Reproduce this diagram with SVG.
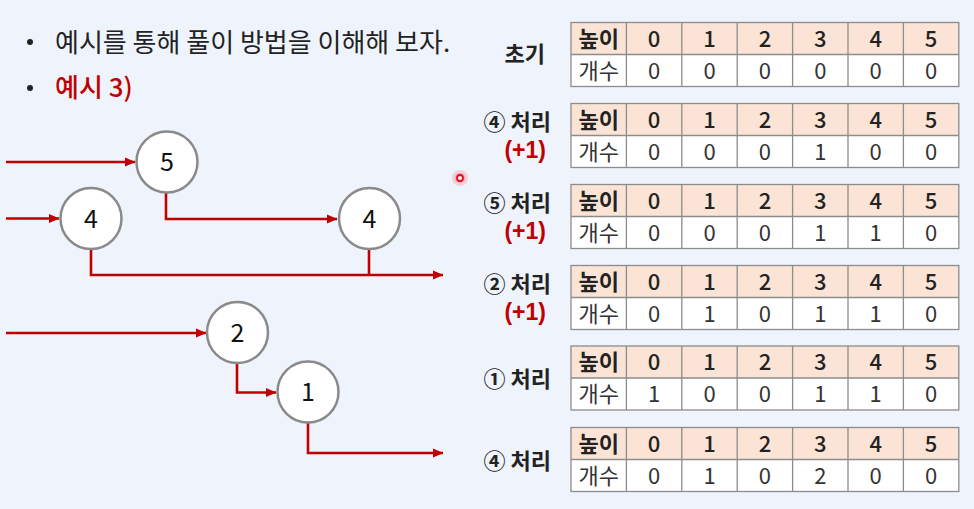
<svg xmlns="http://www.w3.org/2000/svg" width="974" height="509" viewBox="0 0 974 509">
<defs>
<style>
text{font-family:"Noto Sans CJK KR","Noto Sans",sans-serif;}
.bg{fill:#eef3fc;}
.body{font-size:26px;fill:#222;}
.red{fill:#c00000;}
.node circle{fill:#fff;stroke:#8a8a8a;stroke-width:2.5;}
.node text{font-size:25px;fill:#111;text-anchor:middle;}
.conn path{fill:none;stroke:#c00000;stroke-width:2.6;}
.hdr{fill:#fbe4d5;}
.cnt{fill:#fff;}
.grid{fill:none;stroke:#8c8c8c;stroke-width:1.3;}
.th{font-size:22px;font-weight:500;fill:#222;text-anchor:middle;}
.thk{font-size:22px;font-weight:700;fill:#222;text-anchor:middle;}
.td{font-size:22px;fill:#333;text-anchor:middle;}
.lbl{font-size:22px;font-weight:700;fill:#222;text-anchor:end;}
.plus{font-family:"Liberation Sans",Arial,sans-serif;font-size:23px;font-weight:700;fill:#c00000;text-anchor:end;}
</style>
<marker id="ah" markerUnits="userSpaceOnUse" markerWidth="11" markerHeight="10" refX="10" refY="5" orient="auto">
<path d="M0,0.5 L10.5,5 L0,9.5 z" fill="#c00000"/>
</marker>
<g id="tbl">
<rect class="hdr" x="0" y="0" width="387.8" height="32"/>
<rect class="cnt" x="0" y="32" width="387.8" height="32"/>
<rect class="grid" x="0" y="0" width="387.8" height="64"/>
<path class="grid" d="M0 32H387.8M55.4 0V64M110.8 0V64M166.2 0V64M221.6 0V64M277 0V64M332.4 0V64"/>
<text class="thk" x="27.7" y="24">높이</text>
<text class="th" x="83.1" y="24">0</text>
<text class="th" x="138.5" y="24">1</text>
<text class="th" x="193.9" y="24">2</text>
<text class="th" x="249.3" y="24">3</text>
<text class="th" x="304.7" y="24">4</text>
<text class="th" x="360.1" y="24">5</text>
<text class="td" x="27.7" y="56">개수</text>
</g>
</defs>
<rect class="bg" x="0" y="0" width="974" height="509"/>

<g id="header-text">
<circle cx="30" cy="42" r="3" fill="#222"/>
<text class="body" x="55" y="52">예시를 통해 풀이 방법을 이해해 보자.</text>
<circle cx="30" cy="88" r="3" fill="#222"/>
<text class="body red" x="55" y="97" font-weight="500">예시 3)</text>
</g>

<g id="connectors" class="conn">
<path d="M6 162H135" marker-end="url(#ah)"/>
<path d="M6 218.5H59" marker-end="url(#ah)"/>
<path d="M166 192V219H337" marker-end="url(#ah)"/>
<path d="M91 249V275H443" marker-end="url(#ah)"/>
<path d="M369 249V275"/>
<path d="M6 333H206" marker-end="url(#ah)"/>
<path d="M237 363V392.5H276" marker-end="url(#ah)"/>
<path d="M308 422V453H443" marker-end="url(#ah)"/>
</g>

<g id="node-5" class="node"><circle cx="167" cy="162" r="30.5"/><text x="167" y="171">5</text></g>
<g id="node-4a" class="node"><circle cx="91" cy="218.5" r="30.5"/><text x="91" y="227.5">4</text></g>
<g id="node-4b" class="node"><circle cx="369.5" cy="218.5" r="30.5"/><text x="369.5" y="227.5">4</text></g>
<g id="node-2" class="node"><circle cx="237.5" cy="332.5" r="30.5"/><text x="237.5" y="341.5">2</text></g>
<g id="node-1" class="node"><circle cx="308" cy="392" r="30.5"/><text x="308" y="401">1</text></g>

<circle cx="460" cy="178" r="8" fill="#ff3b3b" opacity="0.18"/>
<circle cx="460" cy="178" r="5" fill="#ff3b3b" opacity="0.3"/>
<circle cx="460" cy="178" r="3" fill="#fff0f0" stroke="#e0102a" stroke-width="1.8"/>

<g id="table-init">
<text class="lbl" x="545" y="62">초기</text>
<g transform="translate(571,22.5)"><use href="#tbl"/>
<text class="td" x="83.1" y="56">0</text><text class="td" x="138.5" y="56">0</text><text class="td" x="193.9" y="56">0</text><text class="td" x="249.3" y="56">0</text><text class="td" x="304.7" y="56">0</text><text class="td" x="360.1" y="56">0</text></g>
</g>

<g id="table-s1">
<text class="lbl" x="551" y="130">④ 처리</text>
<text class="plus" x="546" y="158">(+1)</text>
<g transform="translate(571,103.5)"><use href="#tbl"/>
<text class="td" x="83.1" y="56">0</text><text class="td" x="138.5" y="56">0</text><text class="td" x="193.9" y="56">0</text><text class="td" x="249.3" y="56">1</text><text class="td" x="304.7" y="56">0</text><text class="td" x="360.1" y="56">0</text></g>
</g>

<g id="table-s2">
<text class="lbl" x="551" y="211">⑤ 처리</text>
<text class="plus" x="546" y="239">(+1)</text>
<g transform="translate(571,184.5)"><use href="#tbl"/>
<text class="td" x="83.1" y="56">0</text><text class="td" x="138.5" y="56">0</text><text class="td" x="193.9" y="56">0</text><text class="td" x="249.3" y="56">1</text><text class="td" x="304.7" y="56">1</text><text class="td" x="360.1" y="56">0</text></g>
</g>

<g id="table-s3">
<text class="lbl" x="551" y="292">② 처리</text>
<text class="plus" x="546" y="320">(+1)</text>
<g transform="translate(571,265.5)"><use href="#tbl"/>
<text class="td" x="83.1" y="56">0</text><text class="td" x="138.5" y="56">1</text><text class="td" x="193.9" y="56">0</text><text class="td" x="249.3" y="56">1</text><text class="td" x="304.7" y="56">1</text><text class="td" x="360.1" y="56">0</text></g>
</g>

<g id="table-s4">
<text class="lbl" x="551" y="387">① 처리</text>
<g transform="translate(571,346)"><use href="#tbl"/>
<text class="td" x="83.1" y="56">1</text><text class="td" x="138.5" y="56">0</text><text class="td" x="193.9" y="56">0</text><text class="td" x="249.3" y="56">1</text><text class="td" x="304.7" y="56">1</text><text class="td" x="360.1" y="56">0</text></g>
</g>

<g id="table-s5">
<text class="lbl" x="551" y="469">④ 처리</text>
<g transform="translate(571,427.5)"><use href="#tbl"/>
<text class="td" x="83.1" y="56">0</text><text class="td" x="138.5" y="56">1</text><text class="td" x="193.9" y="56">0</text><text class="td" x="249.3" y="56">2</text><text class="td" x="304.7" y="56">0</text><text class="td" x="360.1" y="56">0</text></g>
</g>
</svg>
